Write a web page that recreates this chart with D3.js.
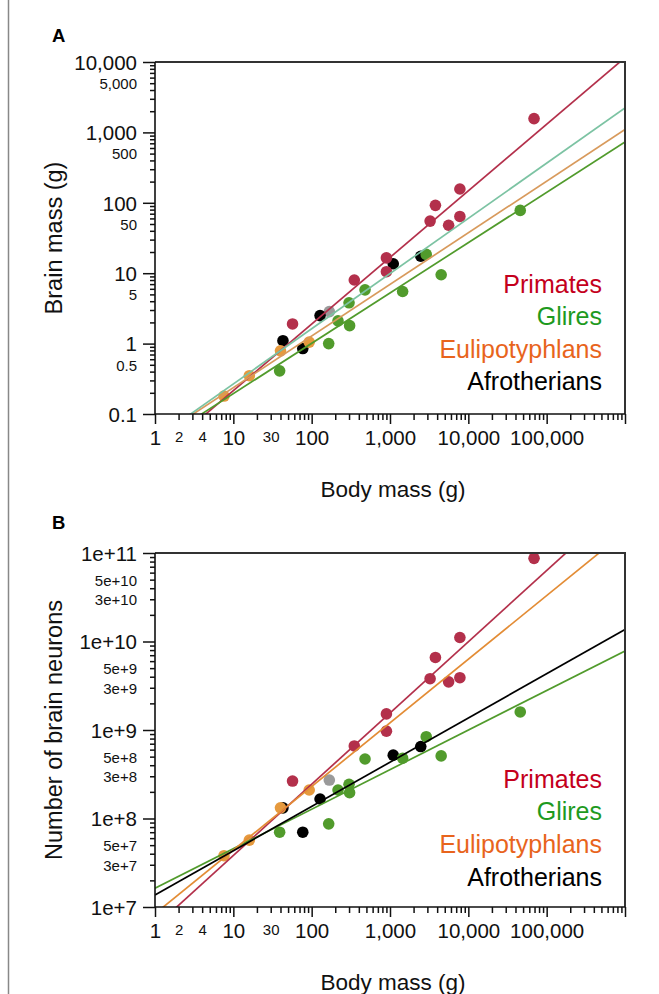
<!DOCTYPE html>
<html><head><meta charset="utf-8">
<script src="https://cdn.jsdelivr.net/npm/d3@7"></script>
<style>
body{margin:0;background:#fff;}
svg{display:block;font-family:"Liberation Sans",Arial,Helvetica,sans-serif;}
</style></head>
<body>
<svg id="c" width="659" height="994"></svg>
<script>
// ---------- DATA ----------
const cladeNames = ["Primates", "Glires", "Eulipotyphlans", "Afrotherians"];

const primatesBody    = [57, 350, 900, 900, 3250, 3800, 5600, 7800, 7800, 69000];
const primatesBrain   = [1.9, 8.0, 16.5, 10.5, 55, 92, 48, 64, 157, 1570];
const primatesNeurons = [2.65e8, 6.6e8, 1.52e9, 9.7e8, 3.8e9, 6.6e9, 3.5e9, 3.9e9, 1.11e10, 8.7e10];

const gliresBody    = [39, 165, 217, 300, 305, 480, 1450, 2900, 4500, 46000];
const gliresBrain   = [0.41, 1.0, 2.1, 3.8, 1.8, 5.8, 5.5, 18.5, 9.5, 78];
const gliresNeurons = [7.0e7, 8.7e7, 2.1e8, 2.43e8, 1.96e8, 4.7e8, 4.8e8, 8.4e8, 5.1e8, 1.6e9];

const euliBody    = [7.6, 16, 40, 93];
const euliBrain   = [0.18, 0.35, 0.79, 1.05];
const euliNeurons = [3.8e7, 5.7e7, 1.32e8, 2.1e8];

const afroBody    = [43, 77, 128, 1100, 2470];
const afroBrain   = [1.1, 0.85, 2.5, 13.6, 17.4];
const afroNeurons = [1.32e8, 7.0e7, 1.66e8, 5.2e8, 6.5e8];

const otherBody    = [168];
const otherBrain   = [2.85];
const otherNeurons = [2.72e8];

// fitted power-law lines: log10(y) = intercept + slope*log10(x)
// order: Primates, Glires, Eulipotyphlans, Afrotherians
const fitSlopesA     = [0.946, 0.715, 0.733, 0.784];
const fitInterceptsA = [-1.614, -1.426, -1.358, -1.357];
const fitSlopesB     = [0.805, 0.447, 0.719, 0.500];
const fitInterceptsB = [6.777, 7.211, 6.924, 7.136];

const xMajorTicks = [1, 10, 100, 1000, 10000, 100000, 1000000];
const xMajorLabels = ["1", "10", "100", "1,000", "10,000", "100,000", ""];
const xSmallLabelTicks = [2, 4, 30];

const yMajorTicksA = [0.1, 1, 10, 100, 1000, 10000];
const yMajorLabelsA = ["0.1", "1", "10", "100", "1,000", "10,000"];
const ySmallTicksA = [0.5, 5, 50, 500, 5000];
const ySmallLabelsA = ["0.5", "5", "50", "500", "5,000"];

const yMajorTicksB = [1e7, 1e8, 1e9, 1e10, 1e11];
const yMajorLabelsB = ["1e+7", "1e+8", "1e+9", "1e+10", "1e+11"];
const ySmallTicksB = [3e7, 5e7, 3e8, 5e8, 3e9, 5e9, 3e10, 5e10];
const ySmallLabelsB = ["3e+7", "5e+7", "3e+8", "5e+8", "3e+9", "5e+9", "3e+10", "5e+10"];

// ---------- STYLE ----------
const pointColors = ["#b3304b", "#519b2c", "#e69a3e", "#000000"];
const otherColor = "#9a9a9a";
const lineColorsA = ["#b3304b", "#519b2c", "#d89a5c", "#7cc3a3"];
const lineColorsB = ["#b3304b", "#519b2c", "#e38c35", "#000000"];
const legendColors = ["#c4001c", "#1e9a1e", "#e8641c", "#000000"];

const svg = d3.select("#c");
const FONT_BIG = 20.5, FONT_SMALL = 15;

// figure left border
svg.append("line").attr("x1", 8.5).attr("x2", 8.5).attr("y1", 0).attr("y2", 994)
  .attr("stroke", "#888").attr("stroke-width", 1.5);

const x = d3.scaleLog().domain([1, 1e6]).range([155, 625]);

function minorTicks(lo, hi) {
  const out = [];
  for (let e = Math.round(Math.log10(lo)); e < Math.round(Math.log10(hi)); e++)
    for (let k = 2; k <= 9; k++) out.push(k * Math.pow(10, e));
  return out;
}

function panel(opts) {
  const y = opts.y;
  const g = svg.append("g");
  const [x0, x1] = x.range();
  const [yb, yt] = y.range();

  const clipId = "clip" + opts.id;
  svg.append("clipPath").attr("id", clipId).append("rect")
    .attr("x", x0).attr("y", yt).attr("width", x1 - x0).attr("height", yb - yt);

  // points
  const pg = g.append("g");
  const groups = [
    {b: otherBody, v: opts.other, c: otherColor},
    {b: afroBody, v: opts.series[3], c: pointColors[3]},
    {b: gliresBody, v: opts.series[1], c: pointColors[1]},
    {b: euliBody, v: opts.series[2], c: pointColors[2]},
    {b: primatesBody, v: opts.series[0], c: pointColors[0]}
  ];
  groups.forEach(gr => {
    pg.selectAll(null).data(gr.b.map((b, i) => [b, gr.v[i]])).enter().append("circle")
      .attr("cx", d => x(d[0])).attr("cy", d => y(d[1])).attr("r", 5.8)
      .attr("fill", gr.c);
  });

  // fit lines
  const lg = g.append("g").attr("clip-path", `url(#${clipId})`);
  opts.slopes.forEach((m, i) => {
    const b = opts.intercepts[i];
    const pts = x.domain().map(v => [v, Math.pow(10, b + m * Math.log10(v))]);
    lg.append("line")
      .attr("x1", x(pts[0][0])).attr("y1", y(pts[0][1]))
      .attr("x2", x(pts[1][0])).attr("y2", y(pts[1][1]))
      .attr("stroke", opts.lineColors[i]).attr("stroke-width", 1.7);
  });

  // frame (top & right)
  g.append("path").attr("d", `M${x0},${yt}H${x1}V${yb}`)
    .attr("fill", "none").attr("stroke", "#333").attr("stroke-width", 2);

  // x axis
  const xMinor = g.append("g").attr("transform", `translate(0,${yb})`)
    .call(d3.axisBottom(x).tickValues(minorTicks(1, 1e6)).tickSize(6)
      .tickFormat(d => xSmallLabelTicks.includes(d) ? String(d) : ""));
  xMinor.selectAll("text").attr("font-size", FONT_SMALL).attr("y", 0).attr("dy", 0)
    .attr("transform", "translate(0,28)").attr("font-family", null);
  const xMajor = g.append("g").attr("transform", `translate(0,${yb})`)
    .call(d3.axisBottom(x).tickValues(xMajorTicks).tickSize(10)
      .tickFormat((d, i) => xMajorLabels[i]));
  xMajor.selectAll("text").attr("font-size", FONT_BIG).attr("y", 0).attr("dy", 0)
    .attr("transform", "translate(0,31)").attr("font-family", null);

  // y axis
  const yMinorVals = minorTicks(y.domain()[0], y.domain()[1]);
  const yMinor = g.append("g").attr("transform", `translate(${x0},0)`)
    .call(d3.axisLeft(y).tickValues(yMinorVals).tickSize(5)
      .tickFormat(d => {
        const i = opts.smallTicks.findIndex(s => Math.abs(s / d - 1) < 1e-6);
        return i >= 0 ? opts.smallLabels[i] : "";
      }));
  yMinor.selectAll("text").attr("font-size", FONT_SMALL).attr("x", -18)
    .attr("dy", "0.36em").attr("font-family", null);
  const yMajor = g.append("g").attr("transform", `translate(${x0},0)`)
    .call(d3.axisLeft(y).tickValues(opts.majorTicks).tickSize(12)
      .tickFormat((d, i) => opts.majorLabels[i]));
  yMajor.selectAll("text").attr("font-size", FONT_BIG).attr("x", -18)
    .attr("dy", "0.36em").attr("font-family", null);

  [xMinor, xMajor, yMinor, yMajor].forEach(a => {
    a.select(".domain").remove();
    a.selectAll("line").attr("stroke", "#111").attr("stroke-width", 1.5);
    a.selectAll("text").attr("fill", "#111");
  });
  g.append("path").attr("d", `M${x0},${yt}V${yb}H${x1}`)
    .attr("fill", "none").attr("stroke", "#111").attr("stroke-width", 1.6);

  // panel letter
  g.append("text").attr("x", 52).attr("y", opts.letterY).text(opts.letter)
    .attr("font-weight", "bold").attr("font-size", 18.5).attr("fill", "#000");

  // axis titles
  g.append("text").attr("transform", `translate(62,${(yt + yb) / 2}) rotate(-90)`)
    .attr("text-anchor", "middle").attr("font-size", 23.5).attr("fill", "#111")
    .text(opts.yTitle);
  g.append("text").attr("x", 393).attr("y", yb + 83)
    .attr("text-anchor", "middle").attr("font-size", 22.5).attr("fill", "#111")
    .text("Body mass (g)");

  // legend
  cladeNames.forEach((n, i) => {
    g.append("text").attr("x", 602).attr("y", opts.legendY[i])
      .attr("text-anchor", "end").attr("font-size", 25)
      .attr("fill", legendColors[i]).text(n);
  });
}

panel({
  id: "A", letter: "A", letterY: 42,
  y: d3.scaleLog().domain([0.1, 1e4]).range([414, 62]),
  series: [primatesBrain, gliresBrain, euliBrain, afroBrain], other: otherBrain,
  slopes: fitSlopesA, intercepts: fitInterceptsA, lineColors: lineColorsA,
  majorTicks: yMajorTicksA, majorLabels: yMajorLabelsA,
  smallTicks: ySmallTicksA, smallLabels: ySmallLabelsA,
  yTitle: "Brain mass (g)", legendY: [293, 325, 358, 390]
});

panel({
  id: "B", letter: "B", letterY: 529,
  y: d3.scaleLog().domain([1e7, 1e11]).range([907, 553]),
  series: [primatesNeurons, gliresNeurons, euliNeurons, afroNeurons], other: otherNeurons,
  slopes: fitSlopesB, intercepts: fitInterceptsB, lineColors: lineColorsB,
  majorTicks: yMajorTicksB, majorLabels: yMajorLabelsB,
  smallTicks: ySmallTicksB, smallLabels: ySmallLabelsB,
  yTitle: "Number of brain neurons", legendY: [788, 820, 853, 886]
});
</script>
</body></html>
